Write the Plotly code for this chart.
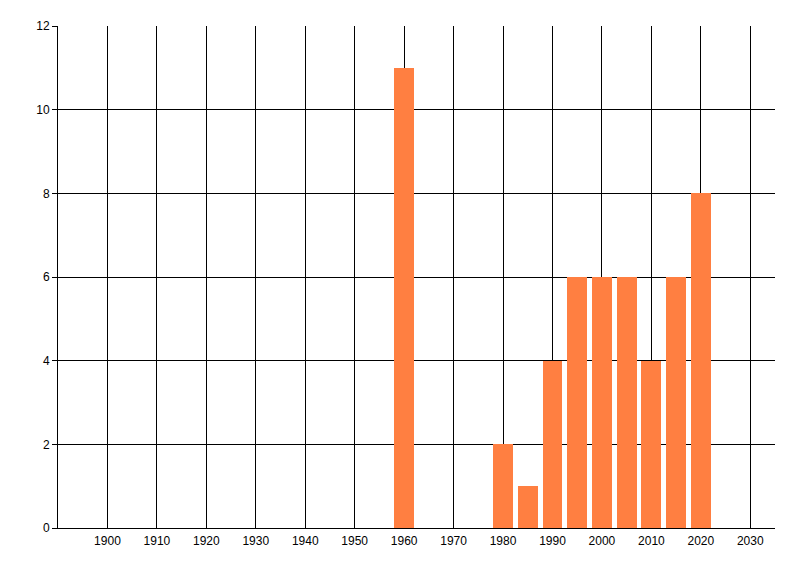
import plotly.graph_objects as go

years = [1960, 1980, 1985, 1990, 1995, 2000, 2005, 2010, 2015, 2020]
counts = [11, 2, 1, 4, 6, 6, 6, 4, 6, 8]
x_ticks = list(range(1900, 2031, 10))
y_ticks = list(range(0, 13, 2))

fig = go.Figure()
fig.add_trace(go.Bar(x=years, y=counts, width=4, marker=dict(color="#FF7F41", line=dict(width=0))))

fig.update_layout(
    width=792, height=568,
    margin=dict(l=50, r=25, t=18, b=48),
    paper_bgcolor="white", plot_bgcolor="white",
    showlegend=False,
    font=dict(family="Liberation Sans, Arial", size=12, color="black"),
    bargap=0,
)
fig.update_xaxes(
    range=[1890, 2035], tickvals=x_ticks, ticktext=[str(v) for v in x_ticks],
    showgrid=True, gridcolor="black", gridwidth=1,
    showline=True, linecolor="black", linewidth=1,
    ticks="outside", ticklen=2, tickcolor="rgba(0,0,0,0)",
    zeroline=False, layer="below traces",
)
fig.update_yaxes(
    range=[0, 12], tickvals=y_ticks,
    showgrid=True, gridcolor="black", gridwidth=1,
    showline=True, linecolor="black", linewidth=1,
    ticks="outside", ticklen=5, tickcolor="black",
    zeroline=False, layer="below traces",
)
fig.write_html("out.html")
